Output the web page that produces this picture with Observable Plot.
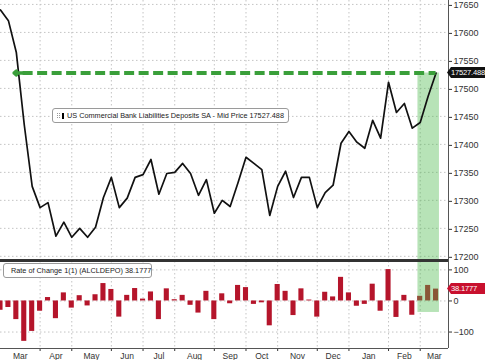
<!DOCTYPE html>
<html><head><meta charset="utf-8">
<script src="https://cdn.jsdelivr.net/npm/d3@7"></script>
<script src="https://cdn.jsdelivr.net/npm/@observablehq/plot@0.6"></script>
<style>
body{margin:0;background:#fff;}
#chart{position:relative;width:485px;height:360px;overflow:hidden;font-family:"Liberation Sans",Arial,sans-serif;background:#fff;}
#chart svg{position:absolute;left:0;}
.legend{position:absolute;background:#fff;border:1px solid #9a9a9a;border-radius:3px;font-size:7.3px;color:#222;display:flex;align-items:center;white-space:nowrap;box-sizing:border-box;padding:0 4px;}
.sw{display:inline-block;width:6px;height:6px;margin-right:3px;}
.grip{display:inline-block;width:2px;height:5px;border-left:1px dotted #999;border-right:1px dotted #999;margin-right:2px;}
.tag{position:absolute;left:447px;width:38px;height:11px;line-height:11px;font-size:7.6px;letter-spacing:-0.2px;color:#fff;padding-left:4px;box-sizing:border-box;white-space:nowrap;clip-path:polygon(4px 0,100% 0,100% 100%,4px 100%,0 50%);}
.sep{position:absolute;left:0;top:259px;width:448px;height:3px;background:#333;}
</style></head><body><div id="chart"></div>
<script>
// weekly observations (Wednesdays)
const weekDates = ["2023-02-22","2023-03-01","2023-03-08","2023-03-15","2023-03-22","2023-03-29","2023-04-05","2023-04-12","2023-04-19","2023-04-26","2023-05-03","2023-05-10","2023-05-17","2023-05-24","2023-05-31","2023-06-07","2023-06-14","2023-06-21","2023-06-28","2023-07-05","2023-07-12","2023-07-19","2023-07-26","2023-08-02","2023-08-09","2023-08-16","2023-08-23","2023-08-30","2023-09-06","2023-09-13","2023-09-20","2023-09-27","2023-10-04","2023-10-11","2023-10-18","2023-10-25","2023-11-01","2023-11-08","2023-11-15","2023-11-22","2023-11-29","2023-12-06","2023-12-13","2023-12-20","2023-12-27","2024-01-03","2024-01-10","2024-01-17","2024-01-24","2024-01-31","2024-02-07","2024-02-14","2024-02-21","2024-02-28","2024-03-06","2024-03-13"];
const deposits = [17640,17621,17564,17435,17325,17287,17296,17236,17261,17234,17250,17234,17252,17305,17341,17287,17304,17341,17346,17373,17311,17348,17350,17366,17348,17309,17337,17277,17300,17289,17332,17377,17366,17355,17273,17325,17352,17305,17341,17341,17287,17314,17327,17402,17423,17404,17393,17443,17411,17511,17457,17473,17429,17439,17486,17527.488];
const rateOfChange = [-30,-21,-60,-130,-98,-33,11,-57,26,-23,17,-16,20,56,37,-52,18,40,6,29,-60,39,4,18,-14,-39,31,-60,23,-9,50,43,-11,-6,-80,53,31,-47,39,3,-52,28,13,76,26,-17,-11,54,-33,101,-53,18,-46,15,50,38.1777];
const monthBreaks = ["2023-03-29","2023-04-26","2023-05-31","2023-06-28","2023-07-26","2023-08-30","2023-09-27","2023-10-25","2023-11-29","2023-12-27","2024-01-31","2024-02-28"];
const xDomain = ["2023-02-22","2024-03-24"];
const yTicksTop = [17200,17250,17300,17350,17400,17450,17500,17550,17600,17650];
const yTicksBottom = [-100,0,100];
const yDomainTop = [17189,17657];
const yDomainBottom = [-153,127];
const lastValue = 17527.488;
const lastRoc = 38.1777;
const highlightDates = ["2024-02-26","2024-03-16"];
const highlightLowRoc = -37;
const arrowTip = "2023-03-06";
const arrowTail = "2023-03-14";
const seriesName = "US Commercial Bank Liabilities Deposits SA - Mid Price";
const rocName = "Rate of Change 1(1) (ALCLDEPO)";

const parse = d3.utcParse("%Y-%m-%d");
const data = weekDates.map((d, i) => ({date: parse(d), value: deposits[i], roc: rateOfChange[i]}));
const lastDate = data[data.length - 1].date;
const bounds = [xDomain[0], ...monthBreaks, xDomain[1]].map(parse);
const labelDates = bounds.slice(1).map((b, i) => new Date((+b + +bounds[i]) / 2));
const hl = highlightDates.map(parse);

const GREEN = "#3a9f3a", HLFILL = "#4cb84c", RED = "#b5152b", GRID = "#c4c4c4";
const style = {fontFamily: "Liberation Sans, Arial, sans-serif", fontSize: "9.5px", background: "transparent", overflow: "visible", color: "#333"};
const xOpt = {type: "utc", domain: xDomain.map(parse)};

const topPlot = Plot.plot({
  width: 485, height: 262, marginLeft: 0, marginRight: 37, marginTop: 0, marginBottom: 0,
  x: {...xOpt, axis: null},
  y: {domain: yDomainTop, axis: null},
  style,
  marks: [
    Plot.ruleY(yTicksTop, {stroke: GRID, strokeDasharray: "1.5,2.5"}),
    Plot.ruleX(monthBreaks.map(parse), {stroke: GRID, strokeDasharray: "1.5,2.5"}),
    Plot.rect([0], {x1: () => hl[0], x2: () => hl[1], y1: () => yDomainTop[0], y2: () => lastValue, fill: HLFILL, fillOpacity: 0.4}),
    Plot.line(data, {x: "date", y: "value", stroke: "#111", strokeWidth: 1.7}),
    Plot.ruleY([lastValue], {x1: () => parse(arrowTail), x2: () => lastDate, stroke: GREEN, strokeWidth: 4, strokeDasharray: "10,4.5"}),
    Plot.arrow([0], {x1: () => parse(arrowTail), x2: () => parse(arrowTip), y1: () => lastValue, y2: () => lastValue, stroke: GREEN, strokeWidth: 3.5, headLength: 11, headAngle: 80}),
    Plot.axisY({ticks: yTicksTop, anchor: "right", label: null, tickSize: 3, tickPadding: 2, fontSize: 9, dy: 1, tickFormat: d => String(d)}),
    Plot.ruleX([parse(xDomain[1])], {stroke: "#555"})
  ]
});

const bottomPlot = Plot.plot({
  width: 485, height: 99, marginLeft: 0, marginRight: 37, marginTop: 0, marginBottom: 12,
  x: {...xOpt},
  y: {domain: yDomainBottom, axis: null},
  style,
  marks: [
    Plot.ruleY(yTicksBottom, {stroke: GRID, strokeDasharray: "1.5,2.5"}),
    Plot.ruleX(monthBreaks.map(parse), {stroke: GRID, strokeDasharray: "1.5,2.5"}),
    Plot.rectY(data, {x1: d => d3.utcHour.offset(d.date, -54), x2: d => d3.utcHour.offset(d.date, 54), y: "roc", fill: RED}),
    Plot.rect([0], {x1: () => hl[0], x2: () => hl[1], y1: () => highlightLowRoc, y2: () => yDomainBottom[1], fill: HLFILL, fillOpacity: 0.4}),
    Plot.axisY({ticks: yTicksBottom, anchor: "right", label: null, tickSize: 3, tickPadding: 2, fontSize: 9}),
    Plot.axisX({ticks: labelDates, anchor: "bottom", label: null, tickSize: 0, tickPadding: 4, fontSize: 8.5, tickFormat: d3.utcFormat("%b")}),
    Plot.axisX({ticks: monthBreaks.map(parse), anchor: "bottom", label: null, tickSize: 3, tickFormat: () => ""}),
    Plot.ruleY([yDomainBottom[0]], {stroke: "#555"}),
    Plot.ruleX([parse(xDomain[1])], {stroke: "#555"})
  ]
});

const chart = document.getElementById("chart");
topPlot.style.top = "0px";
bottomPlot.style.top = "261px";
chart.appendChild(topPlot);
chart.appendChild(bottomPlot);

const sep = document.createElement("div"); sep.className = "sep"; chart.appendChild(sep);

function legend(left, topPx, width, color, text, grip) {
  const el = document.createElement("div");
  el.className = "legend";
  Object.assign(el.style, {left: left + "px", top: topPx + "px", width: width + "px", height: "15px"});
  el.innerHTML = (grip ? '<span class="grip"></span>' : '') + '<span class="sw" style="background:' + color + '"></span><span>' + text + '</span>';
  chart.appendChild(el);
}
legend(52, 108, 237, "#000", seriesName + " " + lastValue, true);
legend(3, 263, 149, RED, rocName + " " + lastRoc, false);

function tag(y, color, text) {
  const el = document.createElement("div");
  el.className = "tag";
  el.style.top = (y - 5.5) + "px";
  el.style.background = color;
  el.textContent = text;
  chart.appendChild(el);
}
tag(topPlot.scale("y").apply(lastValue), "#111", String(lastValue));
tag(261 + bottomPlot.scale("y").apply(lastRoc), "#c8102e", String(lastRoc));
</script></body></html>
